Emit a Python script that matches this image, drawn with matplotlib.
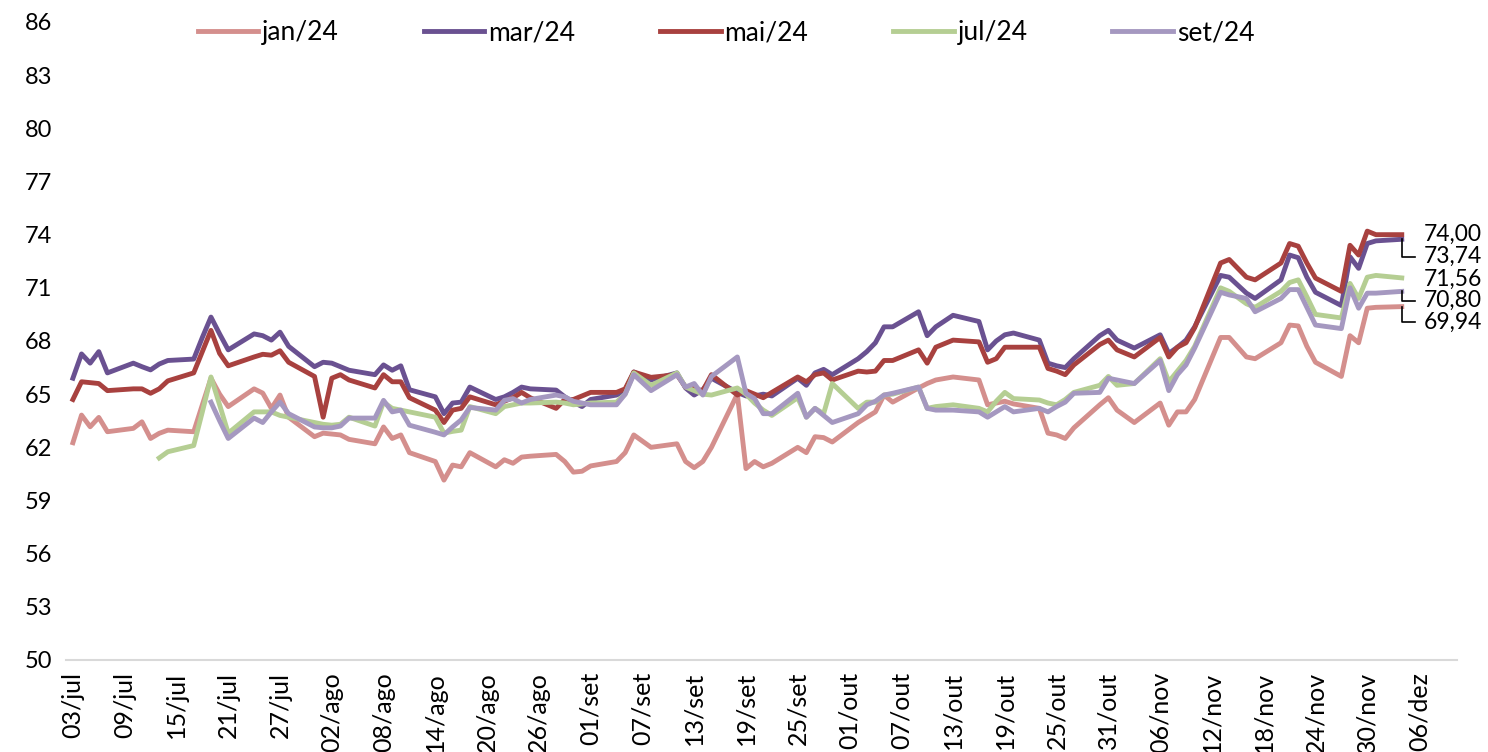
import numpy as np
import pandas as pd
import matplotlib
matplotlib.use("Agg")
import matplotlib.pyplot as plt

nan = np.nan

# business days of the sample (B3 holidays removed)
dates = pd.bdate_range("2023-07-03", "2023-12-04")
holidays = pd.to_datetime(["2023-09-07", "2023-10-12", "2023-11-02", "2023-11-15"])
dates = dates[~dates.isin(holidays)]

jan24 = (
    # jul
    [62.26, 63.82, 63.16, 63.69, 62.88, 63.07, 63.44, 62.50, 62.79, 62.97, 62.88,
     64.40, 65.90, 65.00, 64.30, 65.30, 65.06, 64.20, 64.95, 63.70, 62.60]
    # ago
    + [62.80, 62.75, 62.70, 62.45, 62.20, 63.15, 62.50, 62.70, 61.70, 61.20, 60.15, 61.00,
       60.90, 61.70, 60.90, 61.30, 61.10, 61.45, 61.50, 61.60, 61.20, 60.60, 60.65]
    # set
    + [60.95, 61.20, 61.70, 62.70, 62.00, 62.20, 61.20, 60.85, 61.20, 62.00, 65.00, 60.80,
       61.20, 60.90, 61.10, 62.00, 61.70, 62.60, 62.55, 62.30]
    # out
    + [63.40, 63.70, 64.00, 64.95, 64.55, 65.35, 65.60, 65.80, 65.97, 65.80, 64.40, 64.50,
       64.60, 64.45, 64.20, 62.80, 62.70, 62.50, 63.10, 64.40, 64.80]
    # nov
    + [64.10, 63.40, 64.50, 63.25, 64.00, 64.00, 64.70, 68.20, 68.20, 67.10, 67.00, 67.90,
       68.90, 68.85, 67.70, 66.80, 66.00, 68.30, 67.90, 69.85]
    # dez
    + [69.90, 69.94]
)

mar24 = (
    [65.90, 67.27, 66.75, 67.40, 66.20, 66.75, 66.55, 66.37, 66.70, 66.90, 66.98,
     68.20, 69.35, 68.40, 67.50, 68.40, 68.30, 68.05, 68.50, 67.70, 66.55]
    + [66.80, 66.75, 66.55, 66.35, 66.10, 66.65, 66.35, 66.60, 65.25, 64.85, 63.90, 64.50,
       64.55, 65.40, 64.70, 64.85, 65.10, 65.40, 65.30, 65.23, 64.85, 64.55, 64.30]
    + [64.70, 64.95, 65.20, 66.25, 65.80, 66.20, 65.35, 64.95, 65.25, 65.90, 65.10, 64.90,
       64.90, 65.00, 64.90, 65.90, 65.50, 66.20, 66.40, 66.10]
    + [67.00, 67.40, 67.90, 68.80, 68.80, 69.65, 68.30, 68.80, 69.45, 69.10, 67.50, 68.00,
       68.35, 68.45, 68.05, 66.75, 66.60, 66.50, 67.00, 68.30, 68.60]
    + [68.05, 67.60, 68.35, 67.30, 67.65, 68.05, 68.80, 71.70, 71.60, 70.70, 70.40, 71.45,
       72.85, 72.70, 71.60, 70.75, 70.00, 72.75, 72.10, 73.50]
    + [73.65, 73.74]
)

mai24 = (
    [64.70, 65.70, 65.65, 65.60, 65.20, 65.30, 65.30, 65.05, 65.30, 65.75, 66.20,
     67.40, 68.60, 67.30, 66.60, 67.10, 67.25, 67.20, 67.45, 66.80, 66.00]
    + [63.70, 65.90, 66.10, 65.80, 65.35, 66.10, 65.70, 65.70, 64.80, 64.10, 63.40, 64.10,
       64.20, 64.85, 64.40, 64.60, 64.80, 65.10, 64.80, 64.20, 64.70, 64.70, 64.90]
    + [65.10, 65.10, 65.30, 66.25, 65.95, 66.10, 65.40, 65.30, 65.20, 66.10, 64.95, 65.20,
       65.00, 64.80, 65.10, 65.97, 65.70, 66.10, 66.20, 65.80]
    + [66.30, 66.25, 66.30, 66.90, 66.90, 67.50, 66.75, 67.65, 68.05, 67.95, 66.80, 67.00,
       67.65, 67.65, 67.65, 66.45, 66.30, 66.10, 66.65, 67.80, 68.05]
    + [67.50, 67.10, 68.20, 67.10, 67.65, 67.90, 68.75, 72.40, 72.60, 71.60, 71.45, 72.40,
       73.50, 73.35, 72.40, 71.55, 70.80, 73.40, 72.85, 74.20]
    + [74.00, 74.00]
)

jul24 = (
    [nan, nan, nan, nan, nan, nan, nan, nan, 61.40, 61.75, 62.10,
     64.00, 65.97, 64.40, 62.80, 64.00, 64.00, 64.00, 63.80, 63.70, 63.40]
    + [63.30, 63.25, 63.30, 63.70, 63.20, 64.55, 64.20, 64.10, 64.00, 63.70, 62.80, 62.90,
       62.97, 64.30, 63.90, 64.30, 64.40, 64.50, 64.50, 64.55, 64.50, 64.40, 64.45]
    + [64.50, 64.55, 65.00, 66.20, 65.50, 66.20, 65.40, 65.20, 65.00, 64.95, 65.35, 65.00,
       64.50, 64.10, 63.80, 64.80, 63.70, 64.20, 63.90, 65.60]
    + [64.20, 64.55, 64.55, 64.95, 65.00, 65.40, 64.20, 64.30, 64.40, 64.20, 64.00, 64.60,
       65.10, 64.75, 64.67, 64.50, 64.40, 64.70, 65.10, 65.50, 66.00]
    + [65.50, 65.60, 67.00, 65.70, 66.30, 66.90, 67.70, 71.00, 70.80, 70.10, 69.90, 70.80,
       71.30, 71.45, 70.50, 69.50, 69.30, 71.25, 70.40, 71.60]
    + [71.70, 71.56]
)

set24 = (
    [nan, nan, nan, nan, nan, nan, nan, nan, nan, nan, nan,
     nan, 64.55, 63.50, 62.50, 63.65, 63.40, 64.00, 64.55, 63.90, 63.15]
    + [63.10, 63.10, 63.20, 63.65, 63.65, 64.65, 64.00, 64.10, 63.25, 62.85, 62.70, 63.15,
       63.55, 64.25, 64.10, 64.65, 64.75, 64.50, 64.70, 64.95, 64.85, 64.60, 64.50]
    + [64.40, 64.40, 65.00, 66.10, 65.20, 66.10, 65.40, 65.60, 64.95, 66.00, 67.10, 65.05,
       64.75, 63.90, 63.90, 65.05, 63.70, 64.20, 63.80, 63.40]
    + [63.90, 64.40, 64.60, 64.95, 65.05, 65.40, 64.20, 64.10, 64.10, 64.00, 63.70, 64.00,
       64.30, 64.00, 64.20, 64.00, 64.30, 64.55, 65.05, 65.10, 65.90]
    + [65.80, 65.60, 66.90, 65.20, 66.10, 66.65, 67.60, 70.75, 70.60, 70.40, 69.65, 70.40,
       70.90, 70.90, 69.90, 68.90, 68.70, 71.00, 69.85, 70.70]
    + [70.70, 70.80]
)

series_names = ["jan/24", "mar/24", "mai/24", "jul/24", "set/24"]
series_values = [jan24, mar24, mai24, jul24, set24]
colors = ["#D48F8D", "#6A5191", "#A8413F", "#B5CE93", "#A598C0"]

tick_dates = pd.date_range("2023-07-03", "2023-12-06", freq="6D")
month_pt = {7: "jul", 8: "ago", 9: "set", 10: "out", 11: "nov", 12: "dez"}
tick_labels = ["{:02d}/{}".format(d.day, month_pt[d.month]) for d in tick_dates]

# end-of-series labels: (series index, label y position, draw leader)
end_labels = [(2, 74.00, False), (1, 72.75, True), (3, 71.50, False),
              (4, 70.28, True), (0, 69.05, True)]

plt.rcParams["font.family"] = ["Lato", "DejaVu Sans"]
fs = 17

fig = plt.figure(figsize=(14.88, 7.52), dpi=100)
ax = fig.add_axes([66 / 1488, 1 - 660 / 752, (1457 - 66) / 1488, (660 - 22) / 752])

for name, vals, c in zip(series_names, series_values, colors):
    ax.plot(dates, vals, color=c, lw=3.5, label=name, solid_joinstyle="round")

last = dates[-1]
for idx, ly, leader in end_labels:
    v = series_values[idx][-1]
    if leader:
        ax.plot([last, last, last + pd.Timedelta(days=1.5)], [v, ly, ly],
                color="black", lw=1.2, clip_on=False)
    ax.text(last + pd.Timedelta(days=2.5), ly, "{:.2f}".format(v).replace(".", ","),
            fontsize=fs - 0.5, va="center", ha="left", clip_on=False)

ax.set_ylim(50, 86)
ax.set_yticks(np.arange(50, 87, 3))
ax.set_xlim(pd.Timestamp("2023-07-03") - pd.Timedelta(days=0.8),
            pd.Timestamp("2023-07-03") + pd.Timedelta(days=160.4))
ax.set_xticks(tick_dates)
ax.set_xticklabels(tick_labels, rotation=90)
ax.tick_params(axis="both", length=0, labelsize=fs)
ax.tick_params(axis="x", pad=8.5, labelsize=fs + 1)
ax.tick_params(axis="y", pad=10)

for s in ["left", "right", "top"]:
    ax.spines[s].set_visible(False)
ax.spines["bottom"].set_color("#D9D9D9")
ax.spines["bottom"].set_linewidth(1.5)

ax.legend(loc="center", bbox_to_anchor=(0.4745, 0.983), ncol=5, frameon=False,
          fontsize=fs + 2, handlelength=2.3, handletextpad=0.15, columnspacing=3.2)

fig.savefig("out.png", dpi=100)
